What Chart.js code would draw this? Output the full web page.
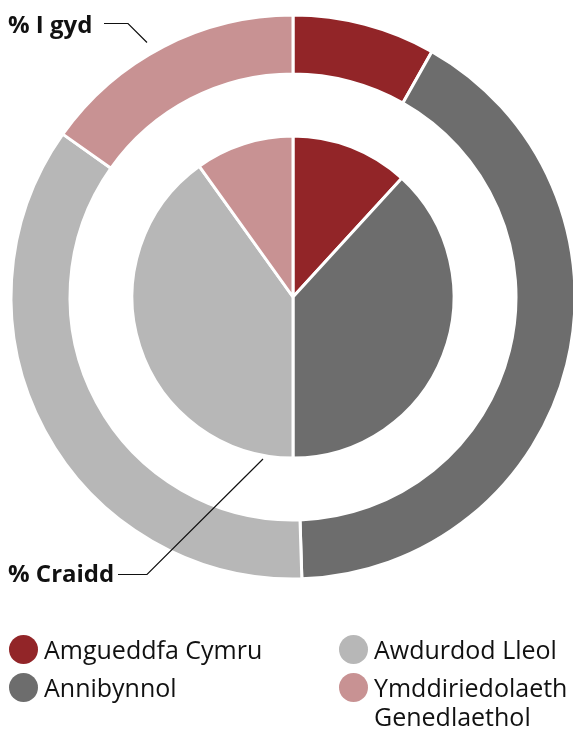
<!DOCTYPE html>
<html lang="cy">
<head>
<meta charset="UTF-8">
<title>% I gyd / % Craidd</title>
<script src="https://cdn.jsdelivr.net/npm/chart.js"></script>
<style>
    * { margin: 0; padding: 0; }
    body {
        width: 573px;
        height: 729px;
        overflow: hidden;
        background: #ffffff;
        position: relative;
        font-family: "Open Sans", Arial, sans-serif;
    }
    #chart {
        position: absolute;
        left: 0;
        top: 0;
    }
    #legend {
        position: absolute;
        left: 9px;
        top: 635px;
        display: grid;
        grid-template-columns: 330px 234px;
        row-gap: 9px;
    }
    .item {
        display: flex;
        align-items: flex-start;
        font-size: 25px;
        line-height: 29px;
        color: #111;
    }
    .dot {
        flex: none;
        width: 29px;
        height: 29px;
        border-radius: 50%;
        margin-right: 6px;
    }
</style>
</head>
<body>
<canvas id="chart" width="578" height="729"></canvas>
<div id="legend"></div>

<script>
    // categorias e valores (percentagens)
    const categorias = ['Amgueddfa Cymru', 'Annibynnol', 'Awdurdod Lleol', 'Ymddiriedolaeth Genedlaethol'];
    const pctIGyd = [8.2, 41.3, 35.3, 15.2];     // anel exterior: % I gyd
    const pctCraidd = [11.8, 38.2, 40.1, 9.9];   // círculo interior: % Craidd
    const cores = ['#922528', '#6d6d6d', '#b7b7b7', '#c89293'];

    // legenda em html
    const legend = document.getElementById('legend');
    const ordem = [0, 2, 1, 3];
    ordem.forEach(i => {
        legend.insertAdjacentHTML('beforeend',
            `<div class="item"><span class="dot" style="background:${cores[i]}"></span><span class="txt">${categorias[i]}</span></div>`);
    });

    // rótulos com linhas
    const rotulos = {
        id: 'rotulos',
        afterDraw(chart) {
            const ctx = chart.ctx;
            ctx.save();
            ctx.fillStyle = '#111';
            ctx.strokeStyle = '#111';
            ctx.lineWidth = 1.2;
            ctx.font = 'bold 24px "Open Sans", Arial, sans-serif';
            ctx.textBaseline = 'alphabetic';
            ctx.fillText('% I gyd', 8, 33);
            ctx.fillText('% Craidd', 8, 582);

            ctx.beginPath();
            ctx.moveTo(104, 23.5);
            ctx.lineTo(128, 23.5);
            ctx.lineTo(147, 42.5);
            ctx.stroke();

            ctx.beginPath();
            ctx.moveTo(118, 574.5);
            ctx.lineTo(147, 574.5);
            ctx.lineTo(263, 459);
            ctx.stroke();
            ctx.restore();
        }
    };

    const ctx = document.getElementById('chart').getContext('2d');
    new Chart(ctx, {
        type: 'doughnut',
        data: {
            labels: categorias,
            datasets: [
                {
                    label: '% I gyd',
                    data: pctIGyd,
                    backgroundColor: cores,
                    borderColor: '#ffffff',
                    borderWidth: 3,
                    weight: 59
                },
                {
                    label: 'espaco',
                    data: [1],
                    backgroundColor: 'rgba(0,0,0,0)',
                    borderWidth: 0,
                    weight: 62
                },
                {
                    label: '% Craidd',
                    data: pctCraidd,
                    backgroundColor: cores,
                    borderColor: '#ffffff',
                    borderWidth: 3,
                    weight: 161
                }
            ]
        },
        options: {
            responsive: false,
            animation: false,
            cutout: 0,
            layout: {
                padding: { left: 9.5, top: 13.5, right: 1.5, bottom: 148.5 }
            },
            plugins: {
                legend: { display: false },
                tooltip: { enabled: false }
            }
        },
        plugins: [rotulos]
    });
</script>
</body>
</html>
